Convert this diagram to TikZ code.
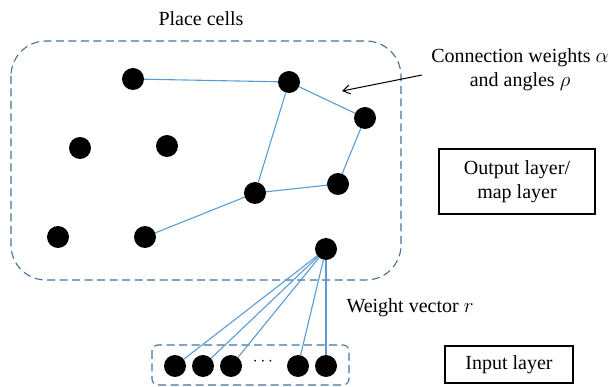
\documentclass[tikz,border=0pt]{standalone}
\usepackage{fontspec}
\setmainfont{Liberation Serif}
\usetikzlibrary{arrows.meta}
\definecolor{linkblue}{RGB}{91,155,213}
\definecolor{boxblue}{RGB}{65,113,156}
\tikzset{
  cell/.style={circle,fill=black,minimum size=22pt,inner sep=0pt},
  link/.style={linkblue,line width=1.1pt},
  group/.style={boxblue,line width=1.1pt,dash pattern=on 8pt off 4.5pt},
  layerbox/.style={draw,line width=1.1pt,align=center,inner sep=0pt},
  lbl/.style={font=\fontsize{20pt}{24pt}\selectfont,align=center}
}
\begin{document}
\begin{tikzpicture}[x=1pt,y=-1pt]
  \useasboundingbox (0,0) rectangle (616,387);
  % place cell group and input group
  \draw[group,rounded corners=35pt] (11,41) rectangle (401,280);
  \draw[group,rounded corners=6pt] (152,345) rectangle (349,385);
  \node[lbl] (title) at (201,19) {Place cells};
  % place cells
  \node[cell] (a) at (133,79) {};
  \node[cell] (b) at (289,82) {};
  \node[cell] (c) at (365,118) {};
  \node[cell] (d) at (80,148) {};
  \node[cell] (e) at (167,146) {};
  \node[cell] (f) at (338,184) {};
  \node[cell] (g) at (255,193) {};
  \node[cell] (h) at (58,237) {};
  \node[cell] (i) at (145,237) {};
  \node[cell] (j) at (326,249) {};
  \draw[link] (a) -- (b) -- (c) -- (f) -- (g) -- (b);
  \draw[link] (g) -- (i);
  % input cells
  \foreach \n/\x in {1/175,2/203,3/231,4/298,5/326}
    \node[cell] (in\n) at (\x,366) {};
  \node[font=\fontsize{18pt}{20pt}\selectfont] (dots) at (263,362) {$\cdots$};
  \foreach \n in {1,...,5}
    \draw[link] (j) -- (in\n);
  % labels
  \node[lbl] (conn) at (520,70) {Connection weights $\alpha$\\and angles $\rho$};
  \coordinate (tip) at (342,91);
  \coordinate (tail) at (422,75);
  \draw[-{Straight Barb[length=7pt,width=9pt]},line width=1pt] (tail) -- (tip);
  \node[lbl,layerbox,minimum width=156pt,minimum height=65pt] (out) at (517,181.5) {Output layer/\\map layer};
  \node[lbl,layerbox,minimum width=128pt,minimum height=37pt] (inp) at (509,364.5) {Input layer};
  \node[lbl] (wv) at (410,308) {Weight vector $r$};
\end{tikzpicture}
\end{document}
